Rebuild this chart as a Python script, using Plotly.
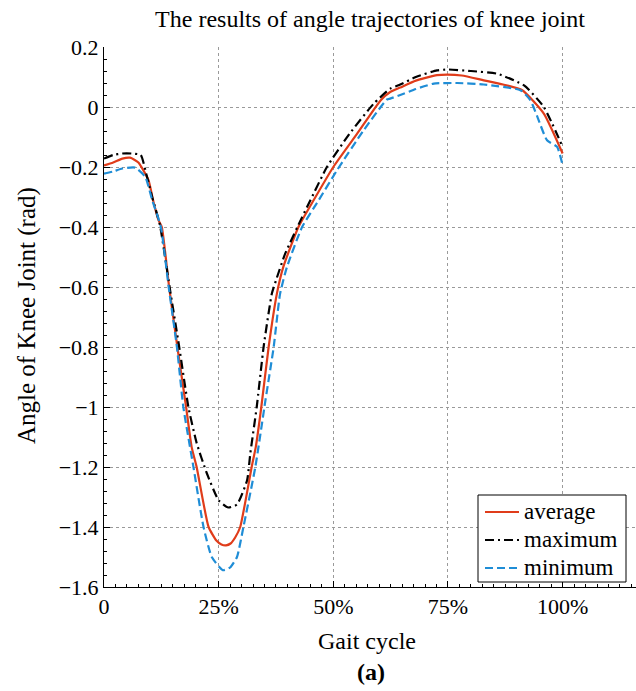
import plotly.graph_objects as go

# ---- data (gait cycle in %, angle in rad) ----
avg_x = [0, 2, 4, 5.7, 7.5, 9.7, 10.7, 11.9, 12.6, 14.2, 16.0, 17.9, 19.1, 20.2, 22.8, 24.5,
         25.6, 26.6, 27.6, 28.6, 29.7, 32.2, 33.1, 34.3, 35.9, 37.7, 39.1, 42.4, 45.7, 50,
         55.2, 60.3, 62.4, 64.6, 68, 72.6, 74.8, 78, 82.8, 87, 91.2, 95.9, 100]
avg_y = [-0.195, -0.185, -0.172, -0.169, -0.185, -0.244, -0.311, -0.378, -0.40, -0.60, -0.80,
         -1.00, -1.133, -1.20, -1.40, -1.445, -1.458, -1.461, -1.455, -1.435, -1.40, -1.20,
         -1.133, -1.00, -0.80, -0.622, -0.533, -0.40, -0.311, -0.20, -0.089, 0.022, 0.05,
         0.065, 0.088, 0.106, 0.108, 0.105, 0.089, 0.075, 0.056, -0.022, -0.155]

max_x = [0, 2, 4, 6, 8, 9.3, 10.5, 12.2, 14.3, 16.4, 18.4, 20.2, 22.4, 25, 27.1, 29, 31.2,
         31.9, 33.3, 34.8, 36.6, 37.5, 39.5, 43.2, 45, 48.6, 53.5, 58.8, 62.4, 64.6, 68, 72.6,
         75, 80, 85.7, 91.6, 95.9, 100]
max_y = [-0.172, -0.16, -0.155, -0.155, -0.16, -0.228, -0.30, -0.394, -0.60, -0.80, -1.00,
         -1.12, -1.22, -1.311, -1.335, -1.325, -1.244, -1.155, -1.00, -0.80, -0.622, -0.578,
         -0.489, -0.367, -0.311, -0.20, -0.09, 0.011, 0.061, 0.075, 0.10, 0.122, 0.125, 0.12,
         0.111, 0.072, 0.0, -0.133]

min_x = [0, 2, 4, 6.8, 9, 10.5, 12.4, 14.1, 15.9, 17.3, 19.5, 21.7, 23.5, 25.9, 27.5, 29,
         30.4, 33, 35.2, 37, 38.4, 39.9, 43.2, 46.8, 50.8, 56.6, 61.7, 62.4, 64.6, 68, 71.9,
         77, 82.8, 90.8, 93, 94.5, 96.6, 98.8, 100]
min_y = [-0.222, -0.215, -0.205, -0.202, -0.233, -0.31, -0.40, -0.60, -0.80, -1.00, -1.20,
         -1.40, -1.50, -1.544, -1.535, -1.50, -1.40, -1.20, -0.978, -0.80, -0.622, -0.533,
         -0.40, -0.311, -0.211, -0.078, 0.025, 0.028, 0.04, 0.06, 0.078, 0.08, 0.075, 0.056,
         0.022, -0.033, -0.111, -0.133, -0.194]

series_names = ["average", "maximum", "minimum"]

x_ticks = [0, 25, 50, 75, 100]
x_ticktext = ["0", "25%", "50%", "75%", "100%"]
y_ticks = [0.2, 0, -0.2, -0.4, -0.6, -0.8, -1.0, -1.2, -1.4, -1.6]
y_ticktext = ["0.2", "0", "\u22120.2", "\u22120.4", "\u22120.6", "\u22120.8", "\u22121",
              "\u22121.2", "\u22121.4", "\u22121.6"]

FONT = "Liberation Serif"
COLORS = ["#E03C1A", "black", "#1F8DD6"]
DASHES = ["solid", "9px,4px,2px,4px", "8px,4px"]

# plot-area geometry in pixels (for the hand-made legend)
L, R, T, B = 104, 636, 47, 587
def px(x):
    return (x - L) / (R - L)
def py(y):
    return (B - y) / (B - T)

fig = go.Figure()
for xs, ys, nm, c, d in zip([avg_x, max_x, min_x], [avg_y, max_y, min_y],
                            series_names, COLORS, DASHES):
    fig.add_trace(go.Scatter(x=xs, y=ys, mode="lines", name=nm, showlegend=False,
                             line=dict(color=c, width=2.2, dash=d,
                                       shape="spline", smoothing=0.5)))

fig.update_layout(
    width=636, height=691,
    margin=dict(l=L, r=636 - R, t=T, b=691 - B),
    paper_bgcolor="white", plot_bgcolor="white",
    font=dict(family=FONT, size=22, color="black"),
    title=dict(text="The results of angle trajectories of knee joint",
               x=(L + R) / 2 / 636, xref="container", xanchor="center",
               y=1 - 19 / 691, yref="container", yanchor="middle",
               font=dict(family=FONT, size=24, color="black")),
    showlegend=False,
    xaxis=dict(range=[0, 116], tickvals=x_ticks, ticktext=x_ticktext,
               showline=True, linecolor="black", linewidth=1, mirror=False,
               ticks="inside", ticklen=6, tickcolor="black",
               showgrid=True, gridcolor="#9a9a9a", griddash="dot", gridwidth=1,
               zeroline=False, tickfont=dict(family=FONT, size=22),
               minor=dict(ticks="inside", ticklen=3, dtick=2.5, tickcolor="black",
                          showgrid=False)),
    yaxis=dict(range=[-1.6, 0.2], tickvals=y_ticks, ticktext=y_ticktext,
               showline=True, linecolor="black", linewidth=1, mirror=False,
               ticks="inside", ticklen=6, tickcolor="black",
               showgrid=True, gridcolor="#9a9a9a", griddash="dot", gridwidth=1,
               zeroline=False, tickfont=dict(family=FONT, size=22),
               minor=dict(ticks="inside", ticklen=3, dtick=0.04, tickcolor="black",
                          showgrid=False)),
)

# legend box
fig.add_shape(type="rect", xref="paper", yref="paper",
              x0=px(478), x1=px(626), y0=py(582), y1=py(495),
              fillcolor="white", line=dict(color="black", width=1), layer="above")
for i, (nm, c, d) in enumerate(zip(series_names, COLORS, DASHES)):
    yc = 512 + i * 28
    fig.add_shape(type="line", xref="paper", yref="paper",
                  x0=px(485), x1=px(519), y0=py(yc), y1=py(yc),
                  line=dict(color=c, width=2.2, dash=d), layer="above")
    fig.add_annotation(text=nm, xref="paper", yref="paper", x=px(522), y=py(yc - 1),
                       xanchor="left", yanchor="middle", showarrow=False,
                       font=dict(family=FONT, size=23, color="black"))

fig.add_annotation(text="Gait cycle", xref="paper", yref="paper",
                   x=px(367), y=py(641), xanchor="center", yanchor="middle",
                   showarrow=False, font=dict(family=FONT, size=24, color="black"))
fig.add_annotation(text="<b>(a)</b>", xref="paper", yref="paper",
                   x=px(371), y=py(672), xanchor="center", yanchor="middle",
                   showarrow=False, font=dict(family=FONT, size=24, color="black"))
fig.add_annotation(text="Angle of Knee Joint (rad)", xref="paper", yref="paper",
                   x=px(27), y=py(316), textangle=-90,
                   xanchor="center", yanchor="middle", showarrow=False,
                   font=dict(family=FONT, size=25, color="black"))

fig.write_html("out.html")
